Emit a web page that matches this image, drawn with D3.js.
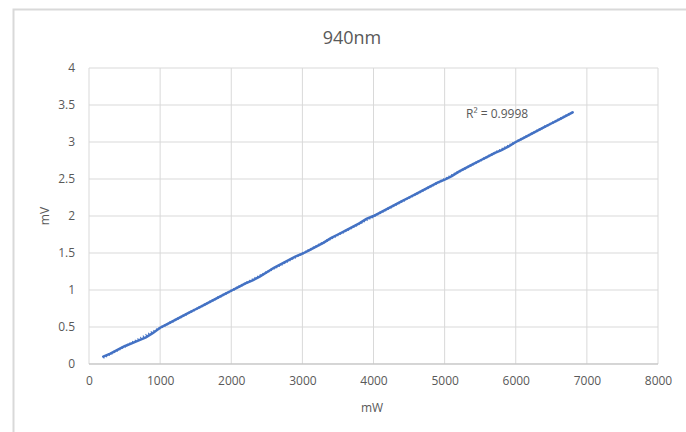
<!DOCTYPE html>
<html>
<head>
<meta charset="utf-8">
<script src="https://cdn.jsdelivr.net/npm/d3@7"></script>
<style>
  body { margin: 0; background: #fff; }
  svg text { font-family: "Open Sans", "Liberation Sans", sans-serif; fill: #595959; }
</style>
</head>
<body>
<svg id="chart" width="686" height="432"></svg>
<script>
// data
var power = [200, 300, 400, 500, 600, 700, 800, 900, 1000, 1100, 1200, 1300, 1400, 1500,
  1600, 1700, 1800, 1900, 2000, 2100, 2200, 2300, 2400, 2500, 2600, 2700, 2800, 2900,
  3000, 3100, 3200, 3300, 3400, 3500, 3600, 3700, 3800, 3900, 4000, 4100, 4200, 4300,
  4400, 4500, 4600, 4700, 4800, 4900, 5000, 5100, 5200, 5300, 5400, 5500, 5600, 5700,
  5800, 5900, 6000, 6100, 6200, 6300, 6400, 6500, 6600, 6700, 6800];
var voltage = [0.10, 0.14, 0.19, 0.24, 0.28, 0.32, 0.36, 0.42, 0.49, 0.54, 0.59, 0.64, 0.69, 0.74,
  0.79, 0.84, 0.89, 0.94, 0.99, 1.04, 1.09, 1.13, 1.18, 1.24, 1.30, 1.35, 1.40, 1.45,
  1.49, 1.54, 1.59, 1.64, 1.70, 1.75, 1.80, 1.85, 1.90, 1.96, 2.00, 2.05, 2.10, 2.15,
  2.20, 2.25, 2.30, 2.35, 2.40, 2.45, 2.49, 2.54, 2.60, 2.65, 2.70, 2.75, 2.80, 2.85,
  2.89, 2.94, 3.00, 3.05, 3.10, 3.15, 3.20, 3.25, 3.30, 3.35, 3.40];
var xTicks = [0, 1000, 2000, 3000, 4000, 5000, 6000, 7000, 8000];
var yTicks = [0, 0.5, 1, 1.5, 2, 2.5, 3, 3.5, 4];
var rSquared = "R² = 0.9998";

var svg = d3.select("#chart");

// outer chart frame
svg.append("rect")
  .attr("x", 13.5).attr("y", 9.5)
  .attr("width", 700).attr("height", 450)
  .attr("fill", "#fff").attr("stroke", "#d9d9d9").attr("stroke-width", 2);

var plotL = 89, plotR = 658, plotT = 68, plotB = 364;

var x = d3.scaleLinear().domain([0, 8000]).range([plotL, plotR]);
var y = d3.scaleLinear().domain([0, 4]).range([plotB, plotT]);

// gridlines
svg.append("g").selectAll("line")
  .data(xTicks).enter().append("line")
  .attr("x1", function(d){ return x(d); }).attr("x2", function(d){ return x(d); })
  .attr("y1", plotT).attr("y2", plotB)
  .attr("stroke", "#d9d9d9").attr("stroke-width", 1);

svg.append("g").selectAll("line")
  .data(yTicks).enter().append("line")
  .attr("x1", plotL).attr("x2", plotR)
  .attr("y1", function(d){ return y(d); }).attr("y2", function(d){ return y(d); })
  .attr("stroke", "#d9d9d9").attr("stroke-width", 1);

// bottom axis line a bit darker
svg.append("line")
  .attr("x1", plotL).attr("x2", plotR).attr("y1", plotB).attr("y2", plotB)
  .attr("stroke", "#bfbfbf").attr("stroke-width", 1);

// tick labels via axes
var xAxis = d3.axisBottom(x).tickValues(xTicks).tickSize(0).tickPadding(12)
  .tickFormat(d3.format("d"));
svg.append("g")
  .attr("transform", "translate(0," + plotB + ")")
  .call(xAxis)
  .call(function(g){ g.select(".domain").remove(); })
  .selectAll("text")
  .style("font-size", "12px").attr("fill", "#595959");

var yAxis = d3.axisLeft(y).tickValues(yTicks).tickSize(0).tickPadding(14)
  .tickFormat(function(d){ return String(d); });
svg.append("g")
  .attr("transform", "translate(" + plotL + ",0)")
  .call(yAxis)
  .call(function(g){ g.select(".domain").remove(); })
  .selectAll("text")
  .style("font-size", "12px").attr("fill", "#595959");

// data line
var pts = power.map(function(p, i){ return [p, voltage[i]]; });
var line = d3.line()
  .x(function(d){ return x(d[0]); })
  .y(function(d){ return y(d[1]); });

svg.append("path")
  .datum(pts)
  .attr("d", line)
  .attr("fill", "none")
  .attr("stroke", "#4472c4")
  .attr("stroke-width", 2.5)
  .attr("stroke-linecap", "round");

// linear trendline (dotted), from least squares
var n = pts.length;
var mx = d3.mean(power), my = d3.mean(voltage);
var sxy = d3.sum(pts, function(d){ return (d[0]-mx)*(d[1]-my); });
var sxx = d3.sum(power, function(p){ return (p-mx)*(p-mx); });
var slope = sxy / sxx, icpt = my - slope * mx;
var x0 = power[0], x1 = power[n-1];
svg.append("path")
  .datum([[x0, icpt + slope*x0], [x1, icpt + slope*x1]])
  .attr("d", line)
  .attr("fill", "none")
  .attr("stroke", "#4472c4")
  .attr("stroke-width", 2.5)
  .attr("stroke-dasharray", "1,2");

// title and labels
svg.append("text")
  .attr("x", 352).attr("y", 44)
  .attr("text-anchor", "middle")
  .style("font-size", "18px")
  .text("940nm");

svg.append("text")
  .attr("x", 372).attr("y", 412)
  .attr("text-anchor", "middle")
  .style("font-size", "12px")
  .text("mW");

svg.append("text")
  .attr("transform", "translate(49," + (plotT + plotB) / 2 + ") rotate(-90)")
  .attr("text-anchor", "middle")
  .style("font-size", "12px")
  .text("mV");

svg.append("text")
  .attr("x", 466).attr("y", 118)
  .style("font-size", "12px")
  .text(rSquared);
</script>
</body>
</html>
